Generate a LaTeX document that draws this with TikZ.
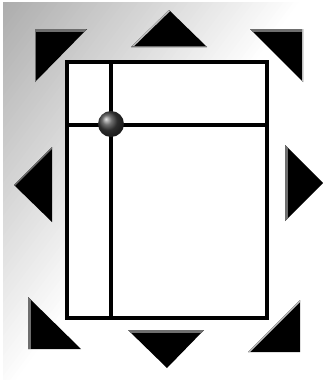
\documentclass[tikz,border=0pt]{standalone}
\definecolor{bgdark}{RGB}{172,172,172}
\definecolor{bevel}{RGB}{110,110,110}
\definecolor{bevellight}{RGB}{190,190,190}
\tikzset{
  tri/.style={fill=black},
  frame/.style={draw=black, line width=3.3pt},
  divider/.style={draw=black, line width=3.3pt},
  bev/.style={draw=bevel, line width=5pt},
  bevl/.style={draw=bevellight, line width=3pt},
}
\begin{document}
\begin{tikzpicture}[x=1pt,y=-1pt]
\useasboundingbox (0,0) rectangle (323,380);
% background
\fill[white] (0,0) rectangle (323,380);
\begin{scope}
  \clip (3,2) rectangle (323,380);
  \begin{scope}[rotate=-36.87]
    \fill[bgdark] (-400,-600) rectangle (900,600);
    \foreach \i in {0,...,60} {
      \pgfmathsetmacro{\p}{100-\i*100/60}
      \fill[bgdark!\p!white] (4*\i,-600) rectangle (900,600);
    }
  \end{scope}
\end{scope}
% frame
\coordinate (fa) at (67,62);
\coordinate (fb) at (267,318);
\fill[white] (fa) rectangle (fb);
\coordinate (vt) at (111,62);
\coordinate (vb) at (111,318);
\coordinate (hl) at (67,125);
\coordinate (hr) at (267,125);
\draw[divider] (vt) -- (vb);
\draw[divider] (hl) -- (hr);
\draw[frame] (fa) rectangle (fb);
\shade[ball color=black!75] (111,124) circle (13);
% triangles
% top-left
\coordinate (a1) at (35,29); \coordinate (a2) at (87,29); \coordinate (a3) at (35,82);
\fill[tri] (a1) -- (a2) -- (a3) -- cycle;
\begin{scope}\clip (a1) -- (a2) -- (a3) -- cycle;
  \draw[bev] (a1) -- (a2); \draw[bevel, line width=2pt] (a1) -- (a3);
\end{scope}
% top center
\coordinate (b1) at (131,47); \coordinate (b2) at (207,47); \coordinate (b3) at (169,10);
\fill[tri] (b1) -- (b2) -- (b3) -- cycle;
\begin{scope}\clip (b1) -- (b2) -- (b3) -- cycle;
  \draw[bevl] (b1) -- (b3); \draw[bevel, line width=2pt] (b1) -- (b2);
\end{scope}
% top-right
\coordinate (c1) at (250,29); \coordinate (c2) at (303,29); \coordinate (c3) at (303,82);
\fill[tri] (c1) -- (c2) -- (c3) -- cycle;
\begin{scope}\clip (c1) -- (c2) -- (c3) -- cycle;
  \draw[bev] (c1) -- (c2); \draw[bevl, line width=2pt] (c2) -- (c3);
\end{scope}
% left
\coordinate (d1) at (14,185); \coordinate (d2) at (52,147); \coordinate (d3) at (52,222);
\fill[tri] (d1) -- (d2) -- (d3) -- cycle;
\begin{scope}\clip (d1) -- (d2) -- (d3) -- cycle;
  \draw[bevel, line width=2.5pt] (d1) -- (d2);
\end{scope}
% right
\coordinate (e1) at (285,145); \coordinate (e2) at (285,221); \coordinate (e3) at (323,183);
\fill[tri] (e1) -- (e2) -- (e3) -- cycle;
\begin{scope}\clip (e1) -- (e2) -- (e3) -- cycle;
  \draw[bev] (e1) -- (e2);
\end{scope}
% bottom-left
\coordinate (f1) at (28,297); \coordinate (f2) at (28,349); \coordinate (f3) at (81,349);
\fill[tri] (f1) -- (f2) -- (f3) -- cycle;
\begin{scope}\clip (f1) -- (f2) -- (f3) -- cycle;
  \draw[bev] (f1) -- (f2);
\end{scope}
% bottom center
\coordinate (g1) at (128,330); \coordinate (g2) at (204,330); \coordinate (g3) at (167,368);
\fill[tri] (g1) -- (g2) -- (g3) -- cycle;
\begin{scope}\clip (g1) -- (g2) -- (g3) -- cycle;
  \draw[bev] (g1) -- (g2);
\end{scope}
% bottom-right
\coordinate (h1) at (300,300); \coordinate (h2) at (300,352); \coordinate (h3) at (248,352);
\fill[tri] (h1) -- (h2) -- (h3) -- cycle;
\begin{scope}\clip (h1) -- (h2) -- (h3) -- cycle;
  \draw[bevl] (h3) -- (h1);
\end{scope}
\end{tikzpicture}
\end{document}
